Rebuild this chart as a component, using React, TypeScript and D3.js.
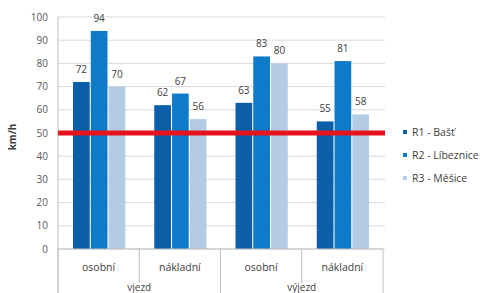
import React from "react";
import * as d3 from "d3";

const categories = ["osobní", "nákladní", "osobní", "nákladní"];
const groups = ["vjezd", "výjezd"];
const seriesNames = ["R1 - Bašť", "R2 - Líbeznice", "R3 - Měšice"];
const r1 = [72, 62, 63, 55];
const r2 = [94, 67, 83, 81];
const r3 = [70, 56, 80, 58];
const yTicks = [0, 10, 20, 30, 40, 50, 60, 70, 80, 90, 100];
const limit = 50;

const colors = ["#0b5ea8", "#0f7bc8", "#b4cbe6"];
const font = "'Open Sans', 'DejaVu Sans', sans-serif";

export default function App() {
  const left = 58;
  const right = 383;
  const top = 17;
  const bottom = 249;

  const series = [r1, r2, r3];
  const x = d3
    .scaleBand<number>()
    .domain(d3.range(categories.length))
    .range([left, right]);
  const inner = d3
    .scaleBand<number>()
    .domain(d3.range(series.length))
    .range([15, x.bandwidth() - 14])
    .paddingInner(0.06);
  const y = d3.scaleLinear().domain([0, 100]).range([bottom, top]);

  const edges = d3.range(categories.length + 1).map((i) => left + i * x.bandwidth());

  return (
    <svg
      width={480}
      height={293}
      style={{ position: "absolute", left: 0, top: 0, background: "#fff" }}
      fontFamily={font}
    >
      {/* gridlines */}
      {yTicks.map((t) => (
        <line key={t} x1={left} x2={385} y1={y(t)} y2={y(t)} stroke="#d9d9d9" strokeWidth={1} />
      ))}
      {yTicks.map((t) => (
        <text key={"l" + t} x={48} y={y(t)} dy="0.35em" textAnchor="end" fontSize={10} fill="#595959">
          {t}
        </text>
      ))}
      <line x1={left} x2={left} y1={top} y2={293} stroke="#bfbfbf" />
      <text
        transform={`translate(16,137) rotate(-90)`}
        textAnchor="middle"
        fontSize={10}
        fontWeight="bold"
        fill="#404040"
      >
        km/h
      </text>

      {/* bars */}
      {series.map((vals, s) =>
        vals.map((v, c) => {
          const bx = (x(c) as number) + (inner(s) as number);
          return (
            <g key={s + "-" + c}>
              <rect x={bx} y={y(v)} width={inner.bandwidth()} height={bottom - y(v)} fill={colors[s]} />
              <text
                x={bx + inner.bandwidth() / 2}
                y={y(v) - 9}
                textAnchor="middle"
                fontSize={10}
                fill="#404040"
              >
                {v}
              </text>
            </g>
          );
        })
      )}

      {/* limit line */}
      <line x1={left} x2={385} y1={y(limit)} y2={y(limit)} stroke="#e3141b" strokeWidth={5} />

      {/* category axis */}
      <line x1={left} x2={right} y1={bottom} y2={bottom} stroke="#bfbfbf" />
      {edges.map((ex, i) => (
        <line
          key={"e" + i}
          x1={ex}
          x2={ex}
          y1={bottom}
          y2={i % 2 === 0 ? 293 : 283}
          stroke="#bfbfbf"
        />
      ))}
      {categories.map((c, i) => (
        <text
          key={"c" + i}
          x={(x(i) as number) + x.bandwidth() / 2}
          y={267}
          dy="0.35em"
          textAnchor="middle"
          fontSize={10.5}
          fill="#404040"
        >
          {c}
        </text>
      ))}
      {groups.map((g, i) => (
        <text
          key={"g" + i}
          x={left + (i * 2 + 1) * x.bandwidth()}
          y={291}
          textAnchor="middle"
          fontSize={10}
          fill="#404040"
        >
          {g}
        </text>
      ))}

      {/* legend */}
      {seriesNames.map((n, i) => (
        <g key={n} transform={`translate(403,${132 + i * 23})`}>
          <rect x={0} y={-2} width={4} height={4} fill={colors[i]} />
          <text x={9} y={0} dy="0.35em" fontSize={10.5} fill="#404040">
            {n}
          </text>
        </g>
      ))}
    </svg>
  );
}
